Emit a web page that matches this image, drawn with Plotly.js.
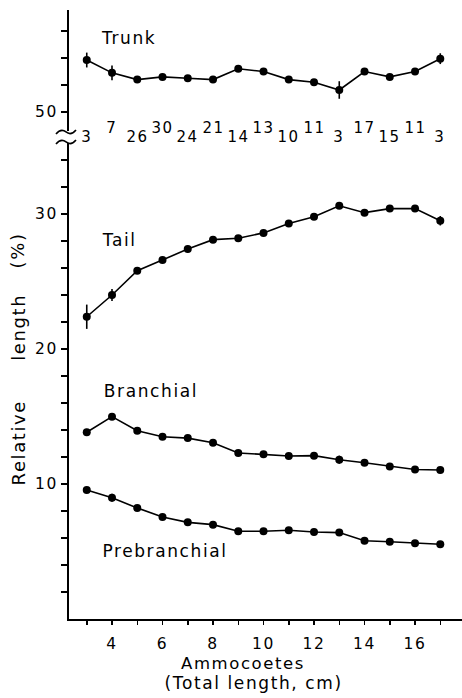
<!DOCTYPE html>
<html>
<head>
<meta charset="utf-8">
<script src="https://cdn.plot.ly/plotly-3.0.1.min.js"></script>
<style>
html,body{margin:0;padding:0;background:#fff;}
#chart{width:462px;height:698px;}
.main-svg text{letter-spacing:1.6px;}
</style>
</head>
<body>
<div id="chart"></div>
<script>
// Data
const totalLength = [3,4,5,6,7,8,9,10,11,12,13,14,15,16,17];
const sampleSize = ['3','7','26','30','24','21','14','13','10','11','3','17','15','11','3'];
const trunk =        [53.85,52.9,52.4,52.6,52.5,52.4,53.2,53.0,52.4,52.2,51.63,53.0,52.6,53.0,53.95];
const trunkErr =     [0.55,0.55,0.2,0.15,0.2,0.15,0.2,0.25,0.2,0.15,0.65,0.2,0.15,0.25,0.4];
const tail =         [22.39,24.0,25.8,26.6,27.4,28.1,28.2,28.6,29.3,29.8,30.61,30.1,30.4,30.4,29.5];
const tailErr =      [0.9,0.45,0.2,0.15,0.25,0.15,0.15,0.15,0.2,0.15,0.15,0.15,0.15,0.15,0.35];
const branchial =    [13.83,14.99,13.95,13.5,13.4,13.06,12.3,12.2,12.07,12.1,11.8,11.57,11.3,11.07,11.04];
const branchialErr = [0.25,0.25,0.15,0.1,0.1,0.1,0.1,0.1,0.1,0.1,0.3,0.1,0.1,0.1,0.1];
const prebranchial = [9.56,8.98,8.23,7.56,7.16,6.99,6.5,6.5,6.57,6.44,6.4,5.8,5.72,5.62,5.54];
const prebranchialErr=[0.1,0.3,0.1,0.1,0.1,0.1,0.1,0.1,0.1,0.1,0.1,0.1,0.1,0.1,0.1];
const seriesNames = ['Trunk','Tail','Branchial','Prebranchial'];
const yTitleWords = ['Relative','length','(%)'];
const xTickVals = [3,4,5,6,7,8,9,10,11,12,13,14,15,16,17];
const xTickText = ['','4','','6','','8','','10','','12','','14','','16',''];
const yLowTickVals = [2,4,6,8,10,12,14,16,18,20,22,24,26,28,30,32,34];
const yLowTickText = ['','','','','10','','','','','20','','','','','30','',''];
const yTopTickVals = [50,52,54,56];
const yTopTickText = ['50','','',''];

const FONT = 'DejaVu Sans, sans-serif';

function series(y, err, name, yaxis){
  return {
    x: totalLength, y: y, name: name, yaxis: yaxis, type:'scatter', mode:'lines+markers',
    line:{color:'#000', width:1.6},
    marker:{color:'#000', size:8},
    error_y:{type:'data', array:err, visible:true, color:'#000', thickness:1.6, width:0},
    showlegend:false, hoverinfo:'x+y'
  };
}

const traces = [
  series(trunk, trunkErr, seriesNames[0], 'y2'),
  series(tail, tailErr, seriesNames[1], 'y'),
  series(branchial, branchialErr, seriesNames[2], 'y'),
  series(prebranchial, prebranchialErr, seriesNames[3], 'y')
];

// plot area: left 69, right 462, top 10, bottom 619
const L = 69, W = 393, T = 10, B = 619, H = 609;
const px = v => (v - L)/W;
const py = v => (B - v)/H;

const annotations = [];
sampleSize.forEach((n,i)=>{
  annotations.push({
    x: totalLength[i], xref:'x', y: (i%2===0) ? py(137) : py(128), yref:'paper',
    text: n, showarrow:false, xanchor:'center', yanchor:'middle',
    font:{family:FONT, size:15, color:'#000'}
  });
});
const labelPos = [
  {x:3.64, y:55.48, yref:'y2'}, {x:3.64, y:28.07, yref:'y'},
  {x:3.88, y:16.9, yref:'y'}, {x:3.92, y:5.04, yref:'y'}
];
seriesNames.forEach((s,i)=>{
  annotations.push({
    x: labelPos[i].x, xref:'x', y: labelPos[i].y, yref: labelPos[i].yref,
    text: s, showarrow:false, xanchor:'left', yanchor:'middle',
    font:{family:FONT, size:17, color:'#000'}
  });
});
// rotated y-axis title, one word each, placed as in the figure
const yTitleCenters = [443, 328, 251];
yTitleWords.forEach((w,i)=>{
  annotations.push({
    x: px(18), xref:'paper', y: py(yTitleCenters[i]), yref:'paper', textangle:-90,
    text: w, showarrow:false, xanchor:'center', yanchor:'middle',
    font:{family:FONT, size:18, color:'#000'}
  });
});
annotations.push({
  x: px(243), xref:'paper', y: py(663), yref:'paper',
  text: 'Ammocoetes', showarrow:false, xanchor:'center', yanchor:'middle',
  font:{family:FONT, size:16.5, color:'#000'}
});
annotations.push({
  x: px(253), xref:'paper', y: py(683), yref:'paper',
  text: '(Total length, cm)', showarrow:false, xanchor:'center', yanchor:'middle',
  font:{family:FONT, size:17, color:'#000'}
});

function tilde(cx, cy){
  const pts = [[cx-10,cy+2],[cx-5,cy-4],[cx,cy],[cx+5,cy+4],[cx+10,cy-2]];
  const p = pts.map(q=>[px(q[0]).toFixed(4), py(q[1]).toFixed(4)]);
  return `M${p[0][0]},${p[0][1]} Q${p[1][0]},${p[1][1]} ${p[2][0]},${p[2][1]} Q${p[3][0]},${p[3][1]} ${p[4][0]},${p[4][1]}`;
}
const shapes = [
  {type:'path', xref:'paper', yref:'paper', path: tilde(66,132), line:{color:'#000', width:1.6}},
  {type:'path', xref:'paper', yref:'paper', path: tilde(66,142), line:{color:'#000', width:1.6}}
];

const layout = {
  width:462, height:698,
  margin:{l:L, r:0, t:T, b:698-B},
  paper_bgcolor:'#fff', plot_bgcolor:'#fff',
  font:{family:FONT, color:'#000', size:15},
  showlegend:false,
  xaxis:{
    range:[2.297, 17.86], showline:true, linecolor:'#000', linewidth:2,
    ticks:'outside', ticklen:4, tickwidth:1.5, tickcolor:'#000',
    tickmode:'array', tickvals:xTickVals, ticktext:xTickText,
    showgrid:false, zeroline:false, anchor:'y', ticklabelstandoff:5,
    tickfont:{family:FONT, size:15.5, color:'#000'}
  },
  yaxis:{
    domain:[0, py(143)], range:[0, (B-143)/13.5],
    showline:true, linecolor:'#000', linewidth:2,
    ticks:'outside', ticklen:6, tickwidth:1.5, tickcolor:'#000',
    tickmode:'array', tickvals:yLowTickVals, ticktext:yLowTickText,
    showgrid:false, zeroline:false, anchor:'x',
    tickfont:{family:FONT, size:15.5, color:'#000'}
  },
  yaxis2:{
    domain:[py(131), 1], range:[50-(131-112)/13.5, 50+(112-10)/13.5],
    showline:true, linecolor:'#000', linewidth:2,
    ticks:'outside', ticklen:6, tickwidth:1.5, tickcolor:'#000',
    tickmode:'array', tickvals:yTopTickVals, ticktext:yTopTickText,
    showgrid:false, zeroline:false, anchor:'x',
    tickfont:{family:FONT, size:15.5, color:'#000'}
  },
  annotations: annotations,
  shapes: shapes
};

Plotly.newPlot('chart', traces, layout, {displayModeBar:false, staticPlot:true});
</script>
</body>
</html>
